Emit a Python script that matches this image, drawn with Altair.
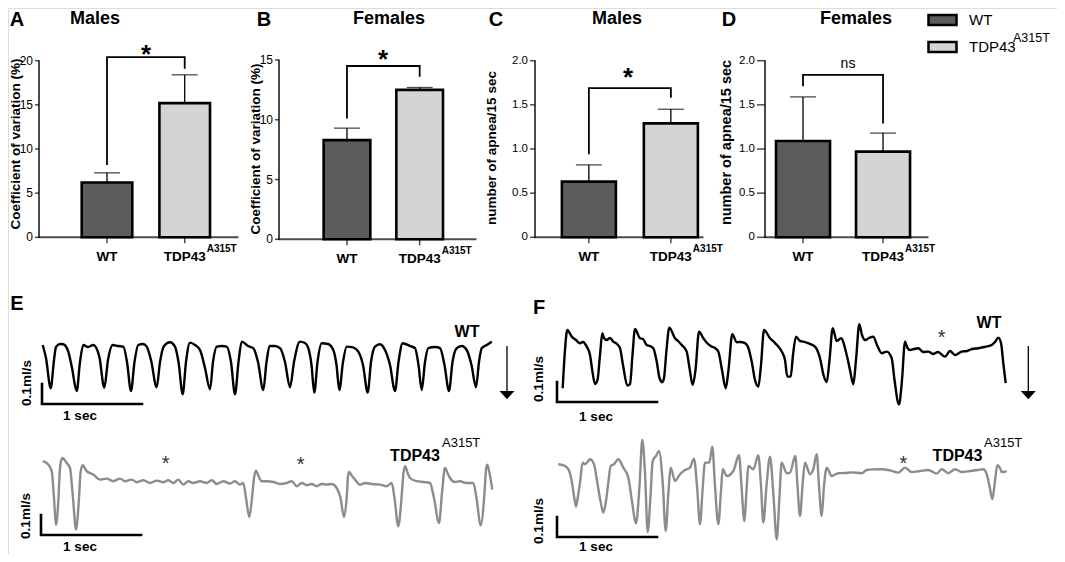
import altair as alt
import pandas as pd

FONT = "Liberation Sans"
W, H = 1049, 546

# ---------------- data: bar panels ----------------
genotypes = ["WT", "TDP43"]
tdp_superscript = "A315T"
fill_colors = ["#5c5c5c", "#d4d4d4"]

cv_males_mean = [6.2, 15.2]
cv_males_sem = [1.1, 3.2]
cv_females_mean = [8.3, 12.5]
cv_females_sem = [1.0, 0.2]
apnea_males_mean = [0.63, 1.29]
apnea_males_sem = [0.19, 0.16]
apnea_females_mean = [1.09, 0.97]
apnea_females_sem = [0.50, 0.21]

# bracket: [WT leg bottom, bracket top, TDP leg bottom]
bracket_cv_males = [8.2, 20.4, 19.1]
bracket_cv_females = [10.1, 14.5, 13.6]
bracket_apnea_males = [0.94, 1.69, 1.58]
bracket_apnea_females = [1.71, 1.84, 1.29]
significance = ["*", "*", "*", "ns"]

yticks_cv_males = [0, 5, 10, 15, 20]
yticks_cv_females = [0, 5, 10, 15]
yticks_apnea = [0, 0.5, 1.0, 1.5, 2.0]

# ---------------- data: flow traces (time s, flow ml/s) ----------------
scale_bar_time = [0, 0, 1]
scale_bar_flow = [0.1, 0, 0]

e_wt_trace = [
    (0.007, 0.295), (0.04, 0.23), (0.087, 0.079), (0.12, 0.22), (0.14, 0.285), (0.18, 0.30), (0.213, 0.299), (0.263, 0.262), (0.30, 0.18), (0.347, 0.065),
    (0.38, 0.21), (0.413, 0.295), (0.46, 0.285), (0.513, 0.295), (0.573, 0.237), (0.623, 0.082), (0.66, 0.22), (0.707, 0.295), (0.76, 0.29), (0.813, 0.287),
    (0.85, 0.21), (0.89, 0.065), (0.925, 0.21), (0.963, 0.295), (1.01, 0.30), (1.047, 0.287), (1.09, 0.22), (1.147, 0.084), (1.18, 0.21), (1.22, 0.29),
    (1.28, 0.309), (1.33, 0.287), (1.365, 0.21), (1.407, 0.049), (1.44, 0.21), (1.48, 0.307), (1.53, 0.295), (1.58, 0.27), (1.63, 0.18), (1.68, 0.074),
    (1.71, 0.21), (1.747, 0.287), (1.80, 0.29), (1.847, 0.287), (1.89, 0.21), (1.93, 0.049), (1.965, 0.21), (1.997, 0.312), (2.06, 0.29), (2.113, 0.279),
    (2.16, 0.21), (2.213, 0.07), (2.245, 0.21), (2.28, 0.29), (2.33, 0.29), (2.38, 0.279), (2.43, 0.21), (2.48, 0.084), (2.52, 0.21), (2.58, 0.312),
    (2.63, 0.305), (2.663, 0.279), (2.695, 0.195), (2.723, 0.057), (2.755, 0.21), (2.797, 0.304), (2.86, 0.30), (2.913, 0.27), (2.945, 0.195), (2.973, 0.07),
    (3.01, 0.21), (3.047, 0.287), (3.11, 0.283), (3.163, 0.262), (3.21, 0.195), (3.257, 0.057), (3.29, 0.21), (3.33, 0.287), (3.38, 0.299), (3.43, 0.27),
    (3.48, 0.195), (3.53, 0.065), (3.565, 0.21), (3.607, 0.304), (3.68, 0.29), (3.73, 0.279), (3.765, 0.195), (3.797, 0.07), (3.83, 0.21), (3.863, 0.279),
    (3.93, 0.285), (3.98, 0.279), (4.025, 0.195), (4.07, 0.065), (4.105, 0.21), (4.147, 0.279), (4.197, 0.29), (4.247, 0.27), (4.295, 0.195), (4.34, 0.084),
    (4.37, 0.21), (4.397, 0.279), (4.447, 0.295), (4.497, 0.312),
]

e_tdp_trace = [
    (0.017, 0.369), (0.073, 0.352), (0.107, 0.32), (0.13, 0.185), (0.15, 0.05), (0.175, 0.185), (0.19, 0.335), (0.213, 0.385), (0.257, 0.36), (0.29, 0.335),
    (0.32, 0.185), (0.35, 0.027), (0.38, 0.185), (0.395, 0.31), (0.417, 0.349), (0.457, 0.319), (0.523, 0.302), (0.59, 0.277), (0.657, 0.282), (0.723, 0.269),
    (0.79, 0.282), (0.84, 0.269), (0.907, 0.277), (0.957, 0.264), (1.023, 0.274), (1.09, 0.26), (1.157, 0.272), (1.223, 0.264), (1.273, 0.274), (1.323, 0.26),
    (1.373, 0.277), (1.423, 0.252), (1.473, 0.269), (1.523, 0.26), (1.59, 0.269), (1.657, 0.26), (1.707, 0.274), (1.757, 0.255), (1.823, 0.269), (1.89, 0.257),
    (1.94, 0.269), (1.99, 0.252), (2.023, 0.26), (2.05, 0.185), (2.083, 0.09), (2.11, 0.185), (2.13, 0.285), (2.15, 0.322), (2.175, 0.295), (2.207, 0.269),
    (2.257, 0.269), (2.323, 0.265), (2.39, 0.255), (2.457, 0.26), (2.507, 0.269), (2.557, 0.244), (2.607, 0.26), (2.657, 0.249), (2.707, 0.255), (2.757, 0.244),
    (2.807, 0.255), (2.857, 0.252), (2.907, 0.255), (2.957, 0.235), (2.995, 0.185), (3.03, 0.09), (3.06, 0.21), (3.07, 0.295), (3.083, 0.315), (3.11, 0.295),
    (3.14, 0.277), (3.19, 0.252), (3.24, 0.26), (3.31, 0.255), (3.39, 0.252), (3.457, 0.244), (3.507, 0.26), (3.535, 0.185), (3.573, 0.044), (3.605, 0.185),
    (3.625, 0.31), (3.64, 0.344), (3.67, 0.305), (3.69, 0.285), (3.757, 0.269), (3.82, 0.265), (3.89, 0.26), (3.93, 0.185), (3.98, 0.06), (4.01, 0.21),
    (4.04, 0.335), (4.07, 0.305), (4.09, 0.285), (4.14, 0.265), (4.19, 0.269), (4.25, 0.26), (4.323, 0.26), (4.355, 0.185), (4.397, 0.049), (4.435, 0.21),
    (4.45, 0.325), (4.463, 0.352), (4.485, 0.31), (4.513, 0.227),
]

f_wt_trace = [
    (0.057, 0.069), (0.08, 0.26), (0.103, 0.36), (0.147, 0.327), (0.19, 0.31), (0.23, 0.294), (0.26, 0.30), (0.297, 0.277), (0.33, 0.235), (0.355, 0.15),
    (0.38, 0.09), (0.405, 0.11), (0.43, 0.235), (0.453, 0.344), (0.47, 0.32), (0.497, 0.31), (0.53, 0.32), (0.563, 0.302), (0.60, 0.29), (0.63, 0.269),
    (0.66, 0.185), (0.703, 0.082), (0.73, 0.09), (0.755, 0.235), (0.78, 0.365), (0.83, 0.319), (0.86, 0.315), (0.897, 0.285), (0.93, 0.28), (0.963, 0.269),
    (0.997, 0.202), (1.025, 0.12), (1.053, 0.099), (1.07, 0.12), (1.095, 0.26), (1.123, 0.372), (1.18, 0.319), (1.21, 0.305), (1.247, 0.285), (1.297, 0.252),
    (1.325, 0.17), (1.357, 0.085), (1.385, 0.16), (1.42, 0.352), (1.463, 0.319), (1.50, 0.295), (1.547, 0.277), (1.58, 0.27), (1.613, 0.252), (1.65, 0.16),
    (1.687, 0.069), (1.715, 0.16), (1.753, 0.339), (1.797, 0.299), (1.83, 0.30), (1.88, 0.294), (1.91, 0.275), (1.947, 0.202), (1.98, 0.11), (2.013, 0.077),
    (2.04, 0.185), (2.07, 0.36), (2.13, 0.319), (2.17, 0.30), (2.213, 0.277), (2.25, 0.25), (2.28, 0.21), (2.303, 0.127), (2.337, 0.127), (2.36, 0.235),
    (2.39, 0.327), (2.43, 0.305), (2.463, 0.302), (2.51, 0.294), (2.58, 0.277), (2.63, 0.219), (2.665, 0.135), (2.697, 0.099), (2.725, 0.21), (2.757, 0.369),
    (2.797, 0.305), (2.84, 0.319), (2.897, 0.235), (2.93, 0.16), (2.963, 0.089), (2.99, 0.21), (3.023, 0.389), (3.05, 0.335), (3.08, 0.31), (3.12, 0.32),
    (3.163, 0.327), (3.20, 0.285), (3.247, 0.244), (3.297, 0.252), (3.347, 0.219), (3.375, 0.11), (3.42, -0.012), (3.45, 0.11), (3.48, 0.302), (3.505, 0.27),
    (3.53, 0.26), (3.57, 0.265), (3.613, 0.269), (3.66, 0.25), (3.713, 0.252), (3.76, 0.24), (3.81, 0.25), (3.88, 0.227), (3.93, 0.255), (3.98, 0.235),
    (4.047, 0.252), (4.10, 0.255), (4.15, 0.265), (4.213, 0.269), (4.27, 0.275), (4.347, 0.285), (4.38, 0.30), (4.413, 0.322), (4.44, 0.295), (4.465, 0.185),
    (4.487, 0.094),
]

f_tdp_trace = [
    (0.013, 0.364), (0.063, 0.359), (0.113, 0.339), (0.147, 0.28), (0.17, 0.205), (0.19, 0.152), (0.21, 0.205), (0.23, 0.272), (0.257, 0.372), (0.28, 0.364),
    (0.305, 0.375), (0.33, 0.389), (0.37, 0.364), (0.403, 0.272), (0.435, 0.18), (0.463, 0.122), (0.49, 0.18), (0.513, 0.272), (0.537, 0.355), (0.57, 0.364),
    (0.613, 0.389), (0.663, 0.347), (0.713, 0.297), (0.747, 0.189), (0.79, 0.069), (0.825, 0.255), (0.853, 0.485), (0.88, 0.322), (0.907, 0.025), (0.935, 0.205),
    (0.957, 0.38), (0.99, 0.405), (1.02, 0.43), (1.057, 0.272), (1.087, 0.03), (1.115, 0.23), (1.137, 0.347), (1.18, 0.28), (1.23, 0.314), (1.28, 0.335),
    (1.33, 0.347), (1.37, 0.392), (1.40, 0.255), (1.43, 0.064), (1.455, 0.23), (1.48, 0.372), (1.523, 0.372), (1.553, 0.452), (1.58, 0.255), (1.613, 0.064),
    (1.64, 0.23), (1.657, 0.339), (1.697, 0.305), (1.763, 0.33), (1.82, 0.409), (1.845, 0.255), (1.873, 0.08), (1.895, 0.23), (1.913, 0.355), (1.963, 0.339),
    (2.013, 0.409), (2.04, 0.255), (2.063, 0.072), (2.095, 0.255), (2.13, 0.402), (2.165, 0.205), (2.197, -0.012), (2.225, 0.205), (2.247, 0.372), (2.297, 0.319),
    (2.33, 0.322), (2.383, 0.405), (2.405, 0.255), (2.43, 0.105), (2.455, 0.255), (2.48, 0.372), (2.53, 0.314), (2.563, 0.339), (2.597, 0.414), (2.62, 0.255),
    (2.647, 0.105), (2.67, 0.255), (2.697, 0.347), (2.747, 0.305), (2.813, 0.319), (2.88, 0.32), (2.95, 0.323), (3.047, 0.319), (3.097, 0.335), (3.16, 0.338),
    (3.247, 0.339), (3.33, 0.333), (3.413, 0.322), (3.48, 0.347), (3.547, 0.325), (3.63, 0.33), (3.713, 0.335), (3.797, 0.317), (3.847, 0.339), (3.913, 0.319),
    (3.98, 0.339), (4.047, 0.325), (4.13, 0.33), (4.21, 0.335), (4.263, 0.339), (4.297, 0.314), (4.325, 0.255), (4.353, 0.189), (4.38, 0.28), (4.403, 0.359),
    (4.43, 0.345), (4.447, 0.325), (4.47, 0.325), (4.497, 0.33),
]

ONE = pd.DataFrame({"k": [0]})


def ptext(text, x, y, **style):
    """Text placed at a pixel position in the view."""
    base = dict(font=FONT, color="black", align="center", baseline="middle")
    base.update(style)
    return alt.Chart(ONE).mark_text(text=text, **base).encode(x=alt.value(x), y=alt.value(y))


def dtext(text, t, v, **style):
    """Text placed in a trace's data coordinates."""
    base = dict(font=FONT, color="black", align="center", baseline="middle")
    base.update(style)
    return alt.Chart(ONE).mark_text(text=text, **base).encode(x=alt.datum(t), y=alt.datum(v))


legend = alt.Legend(
    title=None, orient="none", legendX=919, legendY=-3.5, direction="vertical",
    symbolType="M-1,-0.357H1V0.357H-1Z", symbolSize=784, symbolStrokeColor="black",
    symbolStrokeWidth=2.5, symbolOpacity=1, labelFont=FONT, labelFontSize=15,
    labelColor="black", labelOffset=11, rowPadding=1, padding=0,
)


def tick_label(v, decimals):
    if v == 0:
        return "0"
    return f"{v:.{decimals}f}"


def bar_panel(mean, sem, bracket, sig, ydomain, yticks, ytitle, letter, title, lay):
    top = [m + s for m, s in zip(mean, sem)]
    df = pd.DataFrame({"genotype": genotypes, "mean": mean, "top": top})
    xsc = alt.Scale(domain=genotypes, range=lay["xr"], paddingInner=lay["pi"],
                    paddingOuter=lay["po"], align=lay["al"])
    ysc = alt.Scale(domain=ydomain, range=lay["yr"], nice=False, zero=True)
    xplain = alt.X("genotype:N", axis=None, sort=genotypes)
    ax = lay["xr"][0]
    x_end = lay["xr"][1]
    base_y, top_y = lay["yr"]
    tk = lay["tick"]

    bars = alt.Chart(df).mark_bar(stroke="black", strokeWidth=2.6, opacity=1).encode(
        x=alt.X("genotype:N", scale=xsc, axis=None, sort=genotypes),
        y=alt.Y("mean:Q", scale=ysc, axis=None),
        fill=alt.Fill("genotype:N", scale=alt.Scale(domain=genotypes, range=fill_colors),
                      legend=legend, sort=genotypes),
    )
    err = alt.Chart(df).mark_rule(color="black", strokeWidth=1.3).encode(
        x=xplain, y=alt.Y("mean:Q", axis=None), y2="top:Q")
    caps = alt.Chart(df).mark_tick(color="black", thickness=1.3, size=26).encode(
        x=xplain, y=alt.Y("top:Q", axis=None))
    bdf = pd.DataFrame({
        "genotype": [genotypes[0], genotypes[0], genotypes[1], genotypes[1]],
        "yv": [bracket[0], bracket[1], bracket[1], bracket[2]],
        "o": [0, 1, 2, 3],
    })
    bline = alt.Chart(bdf).mark_line(color="black", strokeWidth=1.8).encode(
        x=xplain, y=alt.Y("yv:Q", axis=None), order="o:Q")

    # --- y axis: tick marks and labels go through the y scale ---
    tdf = pd.DataFrame({"tick": yticks, "label": [tick_label(v, lay["dec"]) for v in yticks]})
    y_line = alt.Chart(ONE).mark_tick(color="black", thickness=2, size=base_y - top_y + 1,
                                      orient="vertical").encode(
        x=alt.value(ax), y=alt.value((base_y + top_y) / 2))
    y_ticks = alt.Chart(tdf).mark_tick(color="black", thickness=1.5, size=tk,
                                       orient="horizontal").encode(
        y=alt.Y("tick:Q", axis=None), x=alt.value(ax - tk / 2))
    y_labels = alt.Chart(tdf).mark_text(font=FONT, fontSize=lay["lfs"], color="black",
                                        align="right", baseline="middle").encode(
        y=alt.Y("tick:Q", axis=None), x=alt.value(ax - tk - 2), text="label:N")
    y_title = ptext(ytitle, ax + lay["tx"], lay["ty"], fontSize=lay["tfs"], fontWeight="bold",
                    angle=270)

    # --- x axis ---
    x_line = alt.Chart(ONE).mark_tick(color="black", thickness=2, size=x_end - ax + 1,
                                      orient="horizontal").encode(
        x=alt.value((ax + x_end) / 2), y=alt.value(base_y))
    x_ticks = alt.Chart(df).mark_tick(color="black", thickness=1.5, size=6,
                                      orient="vertical").encode(
        x=xplain, y=alt.value(base_y + 3))
    x_labels = alt.Chart(df).mark_text(font=FONT, fontSize=13.5, fontWeight="bold", color="black",
                                       align="center", baseline="middle").encode(
        x=xplain, y=alt.value(base_y + 20), text="genotype:N")
    sup = alt.Chart(pd.DataFrame({"genotype": [genotypes[1]]})).mark_text(
        text=tdp_superscript, font=FONT, fontSize=10, fontWeight="bold", color="black",
        align="left", baseline="middle", dx=22).encode(x=xplain, y=alt.value(base_y + 12))

    if sig == "*":
        sig_mark = ptext(sig, lay["sig"][0], lay["sig"][1], fontSize=26, fontWeight="bold",
                         baseline="alphabetic", dy=15)
    else:
        sig_mark = ptext(sig, lay["sig"][0], lay["sig"][1], fontSize=14)
    letter_mark = ptext(letter, lay["letter"][0], lay["letter"][1], fontSize=20, fontWeight="bold")
    title_mark = ptext(title, lay["title"][0], lay["title"][1], fontSize=18, fontWeight="bold")
    return alt.layer(bars, err, caps, bline, y_line, y_ticks, y_labels, y_title,
                     x_line, x_ticks, x_labels, sup, sig_mark, letter_mark, title_mark)


layA = dict(xr=[31, 230], pi=0.349, po=0.455, al=0.604, yr=[229.3, 52.7], tick=4, lfs=12,
            tfs=13.5, tx=-23, ty=136, dec=0, sig=(138, 40), letter=(9, 11.5), title=(87, 10.5))
layB = dict(xr=[271, 468], pi=0.358, po=0.534, al=0.575, yr=[231.3, 52], tick=4, lfs=12,
            tfs=13.5, tx=-23, ty=141, dec=0, sig=(375, 45), letter=(256, 11.5), title=(381, 10.5))
layC = dict(xr=[527, 695], pi=0.341, po=0.195, al=0.84, yr=[229.3, 52.7], tick=5, lfs=11.5,
            tfs=13.5, tx=-43, ty=140, dec=1, sig=(620, 63), letter=(488, 11.5), title=(609, 10.5))
layD = dict(xr=[757, 920], pi=0.325, po=0.181, al=0.38, yr=[229.3, 52.7], tick=8, lfs=11.5,
            tfs=14.5, tx=-38, ty=134.5, dec=1, sig=(840, 56), letter=(721, 12), title=(848, 10.5))

panelA = bar_panel(cv_males_mean, cv_males_sem, bracket_cv_males, significance[0], [0, 20],
                   yticks_cv_males, "Coefficient of variation (%)", "A", "Males", layA)
panelB = bar_panel(cv_females_mean, cv_females_sem, bracket_cv_females, significance[1], [0, 15],
                   yticks_cv_females, "Coefficient of variation (%)", "B", "Females", layB)
panelC = bar_panel(apnea_males_mean, apnea_males_sem, bracket_apnea_males, significance[2], [0, 2],
                   yticks_apnea, "number of apnea/15 sec", "C", "Males", layC)
panelD = bar_panel(apnea_females_mean, apnea_females_sem, bracket_apnea_females, significance[3], [0, 2],
                   yticks_apnea, "number of apnea/15 sec", "D", "Females", layD)

legend_sup = ptext(tdp_superscript, 1005, 30, fontSize=12.5, align="left")


def trace_panel(pairs, color, xr, yr, ydomain, extras):
    df = pd.DataFrame(pairs, columns=["t", "flow"])
    xsc = alt.Scale(domain=[0, 5], range=xr, nice=False, zero=False)
    ysc = alt.Scale(domain=ydomain, range=yr, nice=False, zero=False)
    line = alt.Chart(df).mark_line(color=color, strokeWidth=2.4, interpolate="monotone").encode(
        x=alt.X("t:Q", scale=xsc, axis=None), y=alt.Y("flow:Q", scale=ysc, axis=None))
    sbdf = pd.DataFrame({"t": scale_bar_time, "flow": scale_bar_flow, "o": [0, 1, 2]})
    bar = alt.Chart(sbdf).mark_line(color="black", strokeWidth=2.6, strokeJoin="miter",
                                    strokeCap="square").encode(
        x=alt.X("t:Q", axis=None), y=alt.Y("flow:Q", axis=None), order="o:Q")
    return alt.layer(line, bar, *extras)


def arrow(t, v_top, v_bot, v_head):
    shaft = alt.Chart(ONE).mark_rule(color="black", strokeWidth=1.3).encode(
        x=alt.datum(t), y=alt.datum(v_top), y2=alt.datum(v_bot))
    head = alt.Chart(ONE).mark_point(shape="M-1,-0.55L1,-0.55L0,0.55Z", filled=True,
                                     color="black", size=225, opacity=1).encode(
        x=alt.datum(t), y=alt.datum(v_head))
    return [shaft, head]


def star(t, v):
    return dtext("*", t, v, fontSize=20, color="#333333", baseline="alphabetic", dy=11)


def scale_labels(t_sec, v_sec, t_ml, v_ml):
    return [
        dtext("1 sec", t_sec, v_sec, fontSize=13.5, fontWeight="bold"),
        dtext("0.1ml/s", t_ml, v_ml, fontSize=13.5, fontWeight="bold", angle=270),
    ]


e_wt = trace_panel(
    e_wt_trace, "black", [34, 534], [396, 336], [0, 0.3],
    [dtext("WT", 4.25, 0.36, fontSize=16, fontWeight="bold")]
    + arrow(4.65, 0.29, 0.06, 0.045)
    + scale_labels(0.38, -0.06, -0.155, 0.105)
    + [ptext("E", 9, 295.5, fontSize=20, fontWeight="bold")],
)
e_tdp = trace_panel(
    e_tdp_trace, "#8c8c8c", [33, 533], [527, 447], [0, 0.4],
    [dtext("TDP43", 3.74, 0.395, fontSize=16, fontWeight="bold"),
     dtext(tdp_superscript, 4.01, 0.46, fontSize=13, align="left"),
     star(1.247, 0.38), star(2.597, 0.375)]
    + scale_labels(0.39, -0.06, -0.15, 0.095),
)
f_wt = trace_panel(
    f_wt_trace, "black", [549, 1049], [394, 314], [0, 0.4],
    [dtext("WT", 4.32, 0.395, fontSize=16, fontWeight="bold"), star(3.847, 0.343)]
    + arrow(4.713, 0.28, 0.05, 0.035)
    + scale_labels(0.39, -0.075, -0.18, 0.115)
    + [ptext("F", 531, 299.5, fontSize=20, fontWeight="bold")],
)
f_tdp = trace_panel(
    f_tdp_trace, "#8c8c8c", [549, 1049], [529, 449], [0, 0.4],
    [dtext("TDP43", 4.005, 0.405, fontSize=16, fontWeight="bold"),
     dtext(tdp_superscript, 4.27, 0.47, fontSize=13, align="left"),
     star(3.463, 0.388)]
    + scale_labels(0.39, -0.05, -0.18, 0.08),
)

chart = alt.layer(
    panelA, panelB, panelC, panelD, legend_sup, e_wt, e_tdp, f_wt, f_tdp
).resolve_scale(
    x="independent", y="independent"
).properties(
    width=W, height=H, autosize=alt.AutoSizeParams(type="none"), padding=0
).configure_view(stroke=None).configure(background="white")

chart.save("out.html", embed_options={"renderer": "svg", "actions": False})
